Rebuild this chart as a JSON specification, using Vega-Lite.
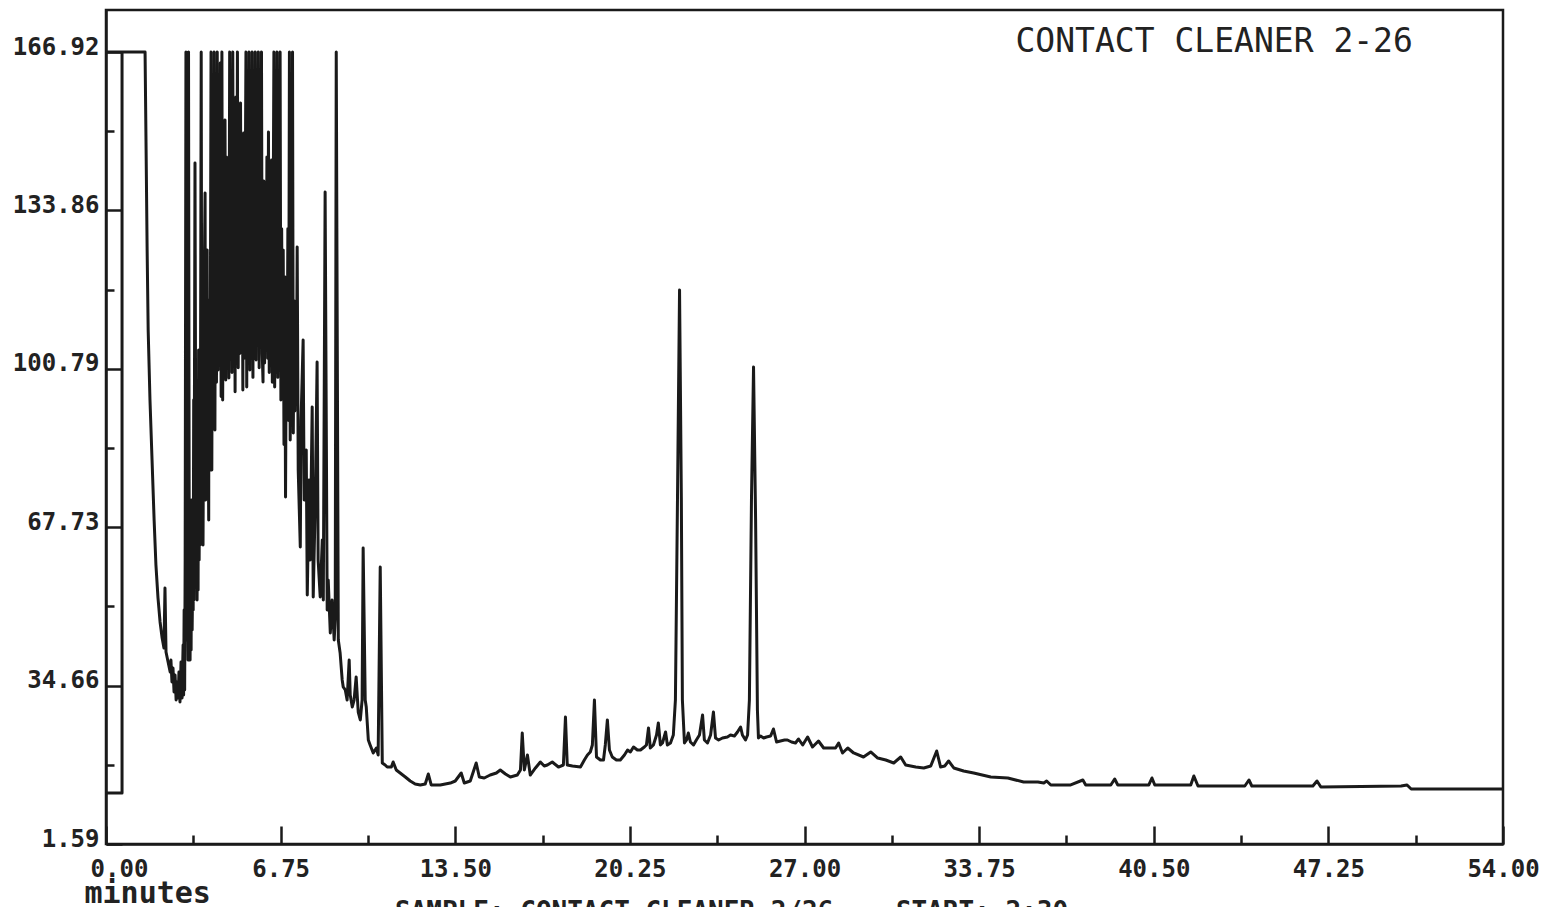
{
  "$schema": "https://vega.github.io/schema/vega-lite/v6.json",
  "width": 1397,
  "height": 834,
  "autosize": {"type": "none"},
  "padding": {"left": 106, "top": 10, "right": 48, "bottom": 63},
  "background": "white",
  "config": {"view": {"stroke": "#1a1a1a", "strokeWidth": 2.5}, "font": "DejaVu Sans Mono"},
  "title": {"text": "SAMPLE: CONTACT CLEANER 2/26\u00a0\u00a0\u00a0\u00a0START: 2:30", "orient": "bottom", "frame": "group", "anchor": "start", "dx": 289, "offset": -9, "baseline": "top", "font": "DejaVu Sans Mono", "fontSize": 26, "fontWeight": "bold", "color": "#222222"},
  "data": {"values": [
    {"i":0,"t":0,"y":12.24},{"i":1,"t":0.62,"y":12.24},{"i":2,"t":0.62,"y":166.92},{"i":3,"t":0,"y":166.92},{"i":4,"t":1.51,"y":166.92},
    {"i":5,"t":1.55,"y":146.46},{"i":6,"t":1.59,"y":125.59},{"i":7,"t":1.63,"y":108.89},{"i":8,"t":1.70,"y":94.28},{"i":9,"t":1.78,"y":81.75},
    {"i":10,"t":1.86,"y":69.23},{"i":11,"t":1.93,"y":59.83},{"i":12,"t":2.01,"y":52.95},{"i":13,"t":2.09,"y":47.94},{"i":14,"t":2.17,"y":44.59},
    {"i":15,"t":2.24,"y":42.51},{"i":16,"t":2.28,"y":55.03},{"i":17,"t":2.32,"y":41.67},{"i":18,"t":2.40,"y":39.58},{"i":19,"t":2.48,"y":37.50},
    {"i":20,"t":2.51,"y":40.00},{"i":21,"t":2.55,"y":35.41},{"i":22,"t":2.59,"y":38.33},{"i":23,"t":2.63,"y":33.32},{"i":24,"t":2.67,"y":36.87},
    {"i":25,"t":2.71,"y":31.65},{"i":26,"t":2.75,"y":35.41},{"i":27,"t":2.79,"y":32.07},{"i":28,"t":2.82,"y":37.50},{"i":29,"t":2.86,"y":31.23},
    {"i":30,"t":2.90,"y":39.58},{"i":31,"t":2.94,"y":32.07},
    {"i":31.5,"t":2.98,"y":43.13},{"i":32,"t":3.00,"y":32.69},{"i":32.5,"t":3.02,"y":50.44},{"i":33,"t":3.04,"y":33.74},{"i":33.5,"t":3.06,"y":60.88},
    {"i":34,"t":3.09,"y":166.92},{"i":34.5,"t":3.12,"y":44.18},{"i":35,"t":3.15,"y":60.88},{"i":35.5,"t":3.17,"y":40.00},{"i":36,"t":3.19,"y":166.92},
    {"i":36.5,"t":3.22,"y":52.53},{"i":37,"t":3.25,"y":40.00},{"i":37.5,"t":3.27,"y":65.05},{"i":38,"t":3.29,"y":42.09},{"i":38.5,"t":3.31,"y":73.40},
    {"i":39,"t":3.33,"y":46.26},{"i":39.5,"t":3.35,"y":56.70},{"i":40,"t":3.37,"y":50.44},{"i":40.5,"t":3.39,"y":94.28},{"i":41,"t":3.40,"y":52.53},
    {"i":41.5,"t":3.44,"y":143.75},{"i":42,"t":3.48,"y":56.70},{"i":42.5,"t":3.50,"y":77.58},{"i":43,"t":3.52,"y":52.53},{"i":43.5,"t":3.54,"y":69.23},
    {"i":44,"t":3.56,"y":54.61},{"i":44.5,"t":3.58,"y":104.71},{"i":45,"t":3.60,"y":60.88},{"i":45.5,"t":3.62,"y":79.66},{"i":46,"t":3.64,"y":64.01},
    {"i":46.5,"t":3.68,"y":166.92},{"i":47,"t":3.71,"y":69.23},{"i":47.5,"t":3.73,"y":94.28},{"i":48,"t":3.75,"y":64.01},{"i":48.5,"t":3.79,"y":115.15},
    {"i":49,"t":3.83,"y":137.49},{"i":49.5,"t":3.85,"y":73.40},{"i":50,"t":3.87,"y":94.28},{"i":50.5,"t":3.89,"y":75.49},{"i":51,"t":3.91,"y":125.59},
    {"i":51.5,"t":3.93,"y":77.58},{"i":52,"t":3.95,"y":88.01},{"i":52.5,"t":3.97,"y":69.23},{"i":53,"t":3.98,"y":115.15},{"i":53.5,"t":4.02,"y":79.66},
    {"i":54,"t":4.06,"y":166.92},{"i":54.5,"t":4.09,"y":79.66},{"i":55,"t":4.12,"y":140.0},{"i":55.5,"t":4.15,"y":92.0},{"i":56,"t":4.18,"y":166.92},
    {"i":56.5,"t":4.21,"y":88.01},{"i":57,"t":4.24,"y":150.0},{"i":57.5,"t":4.27,"y":98.0},{"i":58,"t":4.30,"y":166.92},{"i":58.5,"t":4.33,"y":100.54},
    {"i":59,"t":4.36,"y":158.0},{"i":59.5,"t":4.39,"y":104.0},{"i":60,"t":4.42,"y":164.62},{"i":60.5,"t":4.45,"y":95.0},{"i":61,"t":4.48,"y":166.92},
    {"i":61.5,"t":4.51,"y":94.28},{"i":62,"t":4.54,"y":135.0},{"i":62.5,"t":4.57,"y":99.0},{"i":63,"t":4.60,"y":152.73},{"i":63.5,"t":4.63,"y":98.45},
    {"i":64,"t":4.66,"y":145.0},{"i":64.5,"t":4.69,"y":102.0},{"i":65,"t":4.72,"y":136.03},{"i":65.5,"t":4.75,"y":98.87},{"i":66,"t":4.78,"y":166.92},
    {"i":66.5,"t":4.81,"y":103.0},{"i":67,"t":4.84,"y":155.0},{"i":67.5,"t":4.87,"y":100.0},{"i":68,"t":4.90,"y":166.92},{"i":68.5,"t":4.93,"y":105.0},
    {"i":69,"t":4.96,"y":150.0},{"i":69.5,"t":4.99,"y":96.0},{"i":70,"t":5.02,"y":157.53},{"i":70.5,"t":5.05,"y":107.22},{"i":71,"t":5.08,"y":166.92},
    {"i":71.5,"t":5.11,"y":101.0},{"i":72,"t":5.14,"y":145.0},{"i":72.5,"t":5.17,"y":104.0},{"i":73,"t":5.20,"y":156.27},{"i":73.5,"t":5.23,"y":110.0},
    {"i":74,"t":5.26,"y":140.0},{"i":74.5,"t":5.29,"y":96.36},{"i":75,"t":5.32,"y":150.0},{"i":75.5,"t":5.35,"y":103.0},{"i":76,"t":5.38,"y":136.03},
    {"i":76.5,"t":5.41,"y":166.92},{"i":77,"t":5.44,"y":97.0},{"i":77.5,"t":5.47,"y":150.0},{"i":78,"t":5.50,"y":105.0},{"i":78.5,"t":5.53,"y":166.92},
    {"i":79,"t":5.56,"y":100.54},{"i":79.5,"t":5.59,"y":148.0},{"i":80,"t":5.62,"y":106.0},{"i":80.5,"t":5.65,"y":166.92},{"i":81,"t":5.68,"y":99.0},
    {"i":81.5,"t":5.71,"y":155.0},{"i":82,"t":5.74,"y":103.0},{"i":82.5,"t":5.77,"y":166.92},{"i":83,"t":5.80,"y":102.63},{"i":83.5,"t":5.83,"y":150.0},
    {"i":84,"t":5.86,"y":108.0},{"i":84.5,"t":5.89,"y":166.92},{"i":85,"t":5.92,"y":101.0},{"i":85.5,"t":5.95,"y":145.0},{"i":86,"t":5.98,"y":106.0},
    {"i":86.5,"t":6.01,"y":166.92},{"i":87,"t":6.04,"y":104.0},{"i":87.5,"t":6.07,"y":98.03},{"i":88,"t":6.10,"y":140.0},{"i":88.5,"t":6.13,"y":102.0},
    {"i":89,"t":6.16,"y":136.03},{"i":89.5,"t":6.19,"y":104.71},{"i":90,"t":6.22,"y":145.0},{"i":90.5,"t":6.25,"y":103.0},{"i":91,"t":6.28,"y":150.22},
    {"i":91.5,"t":6.31,"y":100.0},{"i":92,"t":6.34,"y":138.0},{"i":92.5,"t":6.37,"y":106.0},{"i":93,"t":6.40,"y":144.38},{"i":93.5,"t":6.43,"y":98.0},
    {"i":94,"t":6.46,"y":130.0},{"i":94.5,"t":6.49,"y":166.92},{"i":95,"t":6.52,"y":97.0},{"i":95.5,"t":6.55,"y":140.0},{"i":96,"t":6.58,"y":100.0},
    {"i":96.5,"t":6.61,"y":166.92},{"i":97,"t":6.64,"y":99.0},{"i":97.5,"t":6.67,"y":135.0},{"i":98,"t":6.70,"y":105.0},{"i":98.5,"t":6.73,"y":166.92},
    {"i":99,"t":6.76,"y":94.28},{"i":99.5,"t":6.79,"y":130.0},{"i":100,"t":6.82,"y":100.0},{"i":100.5,"t":6.85,"y":125.59},{"i":101,"t":6.88,"y":85.0},
    {"i":101.5,"t":6.91,"y":120.0},{"i":102,"t":6.94,"y":74.02},{"i":102.5,"t":6.97,"y":110.0},{"i":103,"t":7.00,"y":95.0},{"i":103.5,"t":7.03,"y":130.0},
    {"i":104,"t":7.06,"y":90.0},{"i":104.5,"t":7.09,"y":166.92},{"i":105,"t":7.12,"y":85.93},{"i":105.5,"t":7.15,"y":120.0},{"i":106,"t":7.18,"y":90.0},
    {"i":106.5,"t":7.21,"y":166.92},{"i":107,"t":7.24,"y":87.39},{"i":107.5,"t":7.27,"y":115.0},{"i":108,"t":7.30,"y":92.0},{"i":108.5,"t":7.33,"y":110.98},
    {"i":109,"t":7.36,"y":95.0},
    {"i":110,"t":7.39,"y":126.21},{"i":111,"t":7.43,"y":79.66},{"i":112,"t":7.51,"y":63.59},{"i":113,"t":7.54,"y":90.10},{"i":114,"t":7.62,"y":106.80},
    {"i":115,"t":7.66,"y":73.40},{"i":116,"t":7.74,"y":83.84},{"i":117,"t":7.78,"y":53.57},{"i":118,"t":7.85,"y":77.58},{"i":119,"t":7.89,"y":60.88},
    {"i":120,"t":7.97,"y":92.81},{"i":121,"t":8.01,"y":53.15},{"i":122,"t":8.09,"y":73.40},{"i":123,"t":8.16,"y":102.21},{"i":124,"t":8.20,"y":60.88},
    {"i":125,"t":8.28,"y":53.15},{"i":126,"t":8.36,"y":65.05},{"i":127,"t":8.40,"y":52.53},{"i":128,"t":8.47,"y":137.70},{"i":129,"t":8.55,"y":50.44},
    {"i":130,"t":8.59,"y":56.70},{"i":131,"t":8.67,"y":45.64},{"i":132,"t":8.74,"y":52.53},{"i":133,"t":8.82,"y":44.18},{"i":134,"t":8.86,"y":48.35},
    {"i":135,"t":8.90,"y":166.92},{"i":136,"t":8.98,"y":44.18},{"i":137,"t":9.05,"y":41.46},{"i":138,"t":9.13,"y":35.83},{"i":139,"t":9.17,"y":34.37},
    {"i":140,"t":9.25,"y":33.74},{"i":141,"t":9.32,"y":31.65},{"i":142,"t":9.40,"y":40.00},{"i":143,"t":9.44,"y":32.69},{"i":144,"t":9.52,"y":30.19},
    {"i":145,"t":9.59,"y":31.65},{"i":146,"t":9.67,"y":36.45},{"i":147,"t":9.75,"y":29.14},{"i":148,"t":9.83,"y":27.48},{"i":149,"t":9.90,"y":31.65},
    {"i":150,"t":9.94,"y":63.38},{"i":151,"t":10.02,"y":31.65},{"i":152,"t":10.06,"y":30.19},{"i":153,"t":10.14,"y":23.30},{"i":154,"t":10.21,"y":22.26},
    {"i":155,"t":10.33,"y":20.59},{"i":156,"t":10.45,"y":21.63},{"i":157,"t":10.52,"y":20.17},{"i":158,"t":10.60,"y":59.41},{"i":159,"t":10.68,"y":18.50},
    {"i":160,"t":10.79,"y":18.08},{"i":161,"t":10.87,"y":17.66},{"i":162,"t":11.03,"y":17.66},{"i":163,"t":11.10,"y":18.71},{"i":164,"t":11.22,"y":17.04},
    {"i":165,"t":11.37,"y":16.41},{"i":166,"t":11.57,"y":15.58},{"i":167,"t":11.76,"y":14.74},{"i":168,"t":11.95,"y":14.12},{"i":169,"t":12.15,"y":13.91},
    {"i":170,"t":12.34,"y":14.12},{"i":171,"t":12.46,"y":16.20},{"i":172,"t":12.57,"y":13.91},{"i":173,"t":12.92,"y":13.91},{"i":174,"t":13.31,"y":14.32},
    {"i":175,"t":13.50,"y":14.74},{"i":176,"t":13.73,"y":16.41},{"i":177,"t":13.85,"y":14.32},{"i":178,"t":14.08,"y":14.74},{"i":179,"t":14.31,"y":18.50},
    {"i":180,"t":14.43,"y":15.58},{"i":181,"t":14.62,"y":15.37},{"i":182,"t":14.85,"y":15.99},{"i":183,"t":15.09,"y":16.41},{"i":184,"t":15.24,"y":17.04},
    {"i":185,"t":15.44,"y":16.20},{"i":186,"t":15.63,"y":15.58},{"i":187,"t":15.90,"y":15.99},{"i":188,"t":16.02,"y":17.04},{"i":189,"t":16.09,"y":24.76},
    {"i":190,"t":16.17,"y":17.04},{"i":191,"t":16.29,"y":20.17},{"i":192,"t":16.40,"y":15.99},{"i":193,"t":16.60,"y":17.46},{"i":194,"t":16.79,"y":18.71},
    {"i":195,"t":16.94,"y":17.87},{"i":196,"t":17.06,"y":18.08},{"i":197,"t":17.25,"y":18.71},{"i":198,"t":17.49,"y":17.66},{"i":199,"t":17.68,"y":18.08},
    {"i":200,"t":17.76,"y":28.10},{"i":201,"t":17.83,"y":18.08},{"i":202,"t":18.03,"y":17.87},{"i":203,"t":18.34,"y":17.66},{"i":204,"t":18.49,"y":19.12},
    {"i":205,"t":18.61,"y":20.17},{"i":206,"t":18.72,"y":20.80},{"i":207,"t":18.80,"y":22.26},{"i":208,"t":18.88,"y":31.65},{"i":209,"t":18.96,"y":19.75},
    {"i":210,"t":19.11,"y":19.12},{"i":211,"t":19.23,"y":19.12},{"i":212,"t":19.30,"y":22.26},{"i":213,"t":19.38,"y":27.48},{"i":214,"t":19.46,"y":21.21},
    {"i":215,"t":19.57,"y":19.75},{"i":216,"t":19.73,"y":19.12},{"i":217,"t":19.88,"y":19.12},{"i":218,"t":20.04,"y":20.17},{"i":219,"t":20.16,"y":21.21},
    {"i":220,"t":20.27,"y":20.80},{"i":221,"t":20.39,"y":21.84},{"i":222,"t":20.54,"y":21.21},{"i":223,"t":20.66,"y":21.21},{"i":224,"t":20.81,"y":21.84},
    {"i":225,"t":20.89,"y":22.26},{"i":226,"t":20.97,"y":25.81},{"i":227,"t":21.04,"y":21.63},{"i":228,"t":21.16,"y":22.26},{"i":229,"t":21.28,"y":24.34},
    {"i":230,"t":21.35,"y":26.85},{"i":231,"t":21.43,"y":22.26},{"i":232,"t":21.51,"y":22.67},{"i":233,"t":21.63,"y":24.97},{"i":234,"t":21.70,"y":22.26},
    {"i":235,"t":21.82,"y":22.67},{"i":236,"t":21.93,"y":24.34},{"i":237,"t":22.01,"y":31.65},{"i":238,"t":22.09,"y":73.40},{"i":239,"t":22.17,"y":117.24},
    {"i":240,"t":22.24,"y":73.40},{"i":241,"t":22.28,"y":31.65},{"i":242,"t":22.36,"y":22.67},{"i":243,"t":22.44,"y":23.30},{"i":244,"t":22.51,"y":24.76},
    {"i":245,"t":22.59,"y":22.88},{"i":246,"t":22.71,"y":22.26},{"i":247,"t":22.82,"y":23.30},{"i":248,"t":22.94,"y":24.34},{"i":249,"t":23.06,"y":28.52},
    {"i":250,"t":23.13,"y":23.30},{"i":251,"t":23.25,"y":22.67},{"i":252,"t":23.37,"y":24.34},{"i":253,"t":23.48,"y":29.14},{"i":254,"t":23.56,"y":23.72},
    {"i":255,"t":23.68,"y":23.30},{"i":256,"t":23.83,"y":23.72},{"i":257,"t":24.02,"y":23.93},{"i":258,"t":24.14,"y":24.34},{"i":259,"t":24.29,"y":24.13},
    {"i":260,"t":24.41,"y":24.97},{"i":261,"t":24.53,"y":26.02},{"i":262,"t":24.60,"y":24.34},{"i":263,"t":24.72,"y":23.30},{"i":264,"t":24.80,"y":24.34},
    {"i":265,"t":24.87,"y":31.65},{"i":266,"t":24.95,"y":73.40},{"i":267,"t":25.03,"y":101.16},{"i":268,"t":25.11,"y":69.23},{"i":269,"t":25.18,"y":29.56},
    {"i":270,"t":25.22,"y":23.72},{"i":271,"t":25.30,"y":24.13},{"i":272,"t":25.42,"y":23.72},{"i":273,"t":25.53,"y":23.93},{"i":274,"t":25.69,"y":24.13},
    {"i":275,"t":25.80,"y":25.60},{"i":276,"t":25.92,"y":22.88},{"i":277,"t":26.07,"y":23.09},{"i":278,"t":26.23,"y":23.30},{"i":279,"t":26.34,"y":23.30},
    {"i":280,"t":26.50,"y":22.88},{"i":281,"t":26.65,"y":22.67},{"i":282,"t":26.77,"y":23.51},{"i":283,"t":26.93,"y":22.26},{"i":284,"t":27.12,"y":23.93},
    {"i":285,"t":27.31,"y":21.84},{"i":286,"t":27.54,"y":23.09},{"i":287,"t":27.74,"y":21.63},{"i":288,"t":28.01,"y":21.63},{"i":289,"t":28.20,"y":21.63},
    {"i":290,"t":28.32,"y":22.67},{"i":291,"t":28.47,"y":20.59},{"i":292,"t":28.67,"y":21.63},{"i":293,"t":28.90,"y":20.59},{"i":294,"t":29.28,"y":19.75},
    {"i":295,"t":29.56,"y":20.80},{"i":296,"t":29.83,"y":19.54},{"i":297,"t":30.14,"y":19.12},{"i":298,"t":30.45,"y":18.50},{"i":299,"t":30.72,"y":19.75},
    {"i":300,"t":30.91,"y":18.08},{"i":301,"t":31.30,"y":17.66},{"i":302,"t":31.61,"y":17.46},{"i":303,"t":31.88,"y":17.87},{"i":304,"t":32.11,"y":21.00},
    {"i":305,"t":32.26,"y":17.66},{"i":306,"t":32.42,"y":17.87},{"i":307,"t":32.57,"y":18.92},{"i":308,"t":32.77,"y":17.46},{"i":309,"t":33.15,"y":16.83},
    {"i":310,"t":33.54,"y":16.41},{"i":311,"t":34.20,"y":15.58},{"i":312,"t":34.86,"y":15.37},{"i":313,"t":35.47,"y":14.53},{"i":314,"t":36.02,"y":14.53},
    {"i":315,"t":36.25,"y":14.32},{"i":316,"t":36.36,"y":14.74},{"i":317,"t":36.52,"y":13.91},{"i":318,"t":37.29,"y":13.91},{"i":319,"t":37.76,"y":14.95},
    {"i":320,"t":37.87,"y":13.91},{"i":321,"t":38.84,"y":13.91},{"i":322,"t":38.99,"y":15.16},{"i":323,"t":39.11,"y":13.91},{"i":324,"t":40.31,"y":13.91},
    {"i":325,"t":40.43,"y":15.37},{"i":326,"t":40.54,"y":13.91},{"i":327,"t":41.93,"y":13.91},{"i":328,"t":42.05,"y":15.79},{"i":329,"t":42.21,"y":13.70},
    {"i":330,"t":44.02,"y":13.70},{"i":331,"t":44.18,"y":14.95},{"i":332,"t":44.29,"y":13.70},{"i":333,"t":46.65,"y":13.70},{"i":334,"t":46.81,"y":14.74},
    {"i":335,"t":46.96,"y":13.49},{"i":336,"t":50.06,"y":13.70},{"i":337,"t":50.29,"y":13.91},{"i":338,"t":50.45,"y":13.07},{"i":339,"t":54.0,"y":13.07}
  ]},
  "mark": {"type": "line", "color": "#1a1a1a", "strokeWidth": 3, "strokeJoin": "round", "clip": true},
  "encoding": {
    "order": {"field": "i", "type": "quantitative"},
    "x": {
      "field": "t", "type": "quantitative",
      "scale": {"domain": [0, 54], "nice": false, "zero": false},
      "axis": {
        "values": [0, 3.375, 6.75, 10.125, 13.5, 16.875, 20.25, 23.625, 27, 30.375, 33.75, 37.125, 40.5, 43.875, 47.25, 50.625, 54],
        "labelExpr": "datum.value % 6.75 == 0 ? format(datum.value, '.2f') : ''",
        "labelFont": "DejaVu Sans Mono", "labelFontSize": 24, "labelFontWeight": "bold", "labelColor": "#222222",
        "labelPadding": 31, "labelOverlap": false, "labelFlush": false, "labelBaseline": "top",
        "labelOffset": {"condition": {"test": "datum.value == 0", "value": 13}, "value": 0},
        "tickSize": {"condition": {"test": "datum.value % 6.75 == 0", "value": -18}, "value": -9},
        "tickColor": "#1a1a1a", "tickWidth": 2.5,
        "domainColor": "#1a1a1a", "domainWidth": 2.5, "grid": false,
        "title": "minutes", "titleX": -22, "titleY": 58, "titleAlign": "left", "titleBaseline": "alphabetic",
        "titleFont": "DejaVu Sans Mono", "titleFontSize": 30, "titleFontWeight": "bold", "titleColor": "#222222"
      }
    },
    "y": {
      "field": "y", "type": "quantitative",
      "scale": {"domain": [1.59, 175.69], "nice": false, "zero": false},
      "axis": {
        "values": [1.59, 18.125, 34.66, 51.195, 67.73, 84.26, 100.79, 117.325, 133.86, 150.39, 166.92],
        "labelExpr": "indexof([1.59, 34.66, 67.73, 100.79, 133.86, 166.92], datum.value) >= 0 ? format(datum.value, '.2f') : ''",
        "labelFont": "DejaVu Sans Mono", "labelFontSize": 24, "labelFontWeight": "bold", "labelColor": "#222222",
        "labelPadding": 23, "labelOffset": -5, "labelOverlap": false, "labelFlush": false,
        "tickSize": {"condition": {"test": "indexof([1.59, 34.66, 67.73, 100.79, 133.86, 166.92], datum.value) >= 0", "value": -16}, "value": -8},
        "tickColor": "#1a1a1a", "tickWidth": 2.5,
        "domainColor": "#1a1a1a", "domainWidth": 2.5, "grid": false,
        "title": "CONTACT CLEANER 2-26", "titleAngle": 0, "titleX": 909, "titleY": 31, "titleAlign": "left", "titleBaseline": "middle",
        "titleFont": "DejaVu Sans Mono", "titleFontSize": 33, "titleFontWeight": "normal", "titleColor": "#222222"
      }
    }
  }
}
